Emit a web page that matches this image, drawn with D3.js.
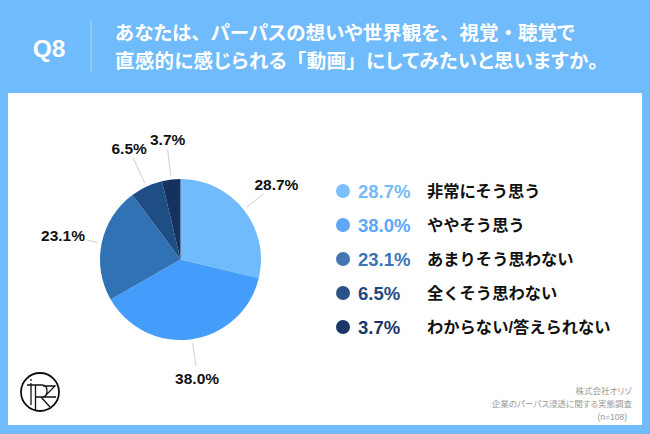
<!DOCTYPE html>
<html lang="ja">
<head>
<meta charset="utf-8">
<script src="https://cdn.jsdelivr.net/npm/d3@7"></script>
<style>
  html, body { margin: 0; padding: 0; background: #fff; }
  svg { display: block; }
  text { font-family: "Liberation Sans", "Noto Sans CJK JP", sans-serif; }
  .title, .footer { font-feature-settings: "palt"; }
  .punct { font-feature-settings: normal; }
</style>
</head>
<body>
<svg id="chart" width="650" height="434"></svg>
<script>
const categories = ["非常にそう思う", "ややそう思う", "あまりそう思わない", "全くそう思わない", "わからない/答えられない"];
const percents = [28.7, 38.0, 23.1, 6.5, 3.7];
const titleLines = ["あなたは、パーパスの想いや世界観を、視覚・聴覚で", "直感的に感じられる「動画」にしてみたいと思いますか。"];
const footerLines = ["株式会社オリゾ", "企業のパーパス浸透に関する実態調査", "(n=108)"];

const colors = ["#70bbfb", "#459dfb", "#3172b5", "#1f4e85", "#15315f"];
const legendColors = ["#7cc0fb", "#5ea6f6", "#4277b3", "#2a5288", "#1b3768"];
const valueColors = ["#74bafa", "#5ea6f6", "#3b74b5", "#234a80", "#1b3768"];

// leader line length and label nudge for each slice, picked by eye
const leaderEnds = [107, 108, 96, 112, 111];
const labelNudge = [[12, -9], [1, 12], [-23.5, -4], [-4, -9], [0, -10]];
const footerRight = [632, 632, 627];
const titleSpacing = [0, 0.3];

const fmt = d => d.toFixed(1) + "%";
const svg = d3.select("#chart");

// background + panel
svg.append("rect").attr("width", 650).attr("height", 434).attr("fill", "#70bbfb");
svg.append("rect").attr("x", 8).attr("y", 93).attr("width", 634).attr("height", 332).attr("fill", "#fff");

// header
svg.append("text").attr("x", 49).attr("y", 57).attr("text-anchor", "middle")
    .attr("font-size", 24.5).attr("font-weight", 700).attr("fill", "#fff").text("Q8");
svg.append("line").attr("x1", 91).attr("x2", 91).attr("y1", 20).attr("y2", 73)
    .attr("stroke", "#a9d6fc").attr("stroke-width", 1);

// the title keeps full width punctuation, only the kana are set tight
const title = svg.selectAll("text.title").data(titleLines).join("text")
    .attr("class", "title")
    .attr("x", 115)
    .attr("y", (d, i) => 40 + i * 27.5)
    .attr("letter-spacing", (d, i) => titleSpacing[i])
    .attr("font-size", 19.5).attr("font-weight", 700).attr("fill", "#fff");
title.selectAll("tspan").data(d => d.split(/([、・「」。])/).filter(s => s)).join("tspan")
    .attr("class", d => /[、・「」。]/.test(d) ? "punct" : null)
    .text(d => d);

// pie
const cx = 180.5, cy = 259.5, radius = 80.5;
const pie = d3.pie().sort(null)(percents);
const arc = d3.arc().innerRadius(0).outerRadius(radius);
const g = svg.append("g").attr("transform", `translate(${cx},${cy})`);

g.selectAll("path").data(pie).join("path")
    .attr("d", arc)
    .attr("fill", (d, i) => colors[i]);

const pointAt = (d, r) => d3.arc().innerRadius(r).outerRadius(r).centroid(d);

g.selectAll("line").data(pie).join("line")
    .attr("x1", d => pointAt(d, radius + 4)[0])
    .attr("y1", d => pointAt(d, radius + 4)[1])
    .attr("x2", (d, i) => pointAt(d, leaderEnds[i])[0])
    .attr("y2", (d, i) => pointAt(d, leaderEnds[i])[1])
    .attr("stroke", "#cfcfcf").attr("stroke-width", 1);

g.selectAll("text").data(pie).join("text")
    .attr("x", (d, i) => pointAt(d, leaderEnds[i])[0] + labelNudge[i][0])
    .attr("y", (d, i) => pointAt(d, leaderEnds[i])[1] + labelNudge[i][1])
    .attr("dy", "0.35em")
    .attr("text-anchor", "middle")
    .attr("font-size", 15.5).attr("font-weight", 700).attr("fill", "#111")
    .text(d => fmt(d.data));

// legend
const legendY = d3.scalePoint().domain(categories).range([191, 327]);
const legend = svg.selectAll("g.legend").data(categories).join("g")
    .attr("class", "legend")
    .attr("transform", d => `translate(0,${legendY(d)})`);

legend.append("circle").attr("cx", 343).attr("r", 7).attr("fill", (d, i) => legendColors[i]);
legend.append("text").attr("x", 358).attr("dy", "0.36em")
    .attr("font-size", 18.5).attr("font-weight", 700)
    .attr("fill", (d, i) => valueColors[i])
    .text((d, i) => fmt(percents[i]));
legend.append("text").attr("x", 427).attr("dy", "0.36em")
    .attr("font-size", 16.3).attr("font-weight", 700).attr("fill", "#111")
    .text(d => d);

// footer
svg.selectAll("text.footer").data(footerLines).join("text")
    .attr("class", "footer")
    .attr("x", (d, i) => footerRight[i])
    .attr("y", (d, i) => 393.5 + i * 13)
    .attr("text-anchor", "end")
    .attr("font-size", 8.5).attr("fill", "#9a9a9a")
    .text(d => d);

// logo
const logo = svg.append("g").attr("transform", "translate(40,392)")
    .attr("fill", "none").attr("stroke", "#111");
logo.append("circle").attr("r", 19).attr("stroke-width", 1.8);
logo.append("path").attr("stroke-width", 1.3)
    .attr("d", "M-9-13V13M-13-7H2Q7-7 7-1Q7 5 2 5H-4.5M-4.5-7V18M1 5L10 15M3-6H15L4 5H16");
logo.append("circle").attr("cx", -9).attr("cy", -10).attr("r", 1.3).attr("fill", "#fff").attr("stroke", "none");
</script>
</body>
</html>
